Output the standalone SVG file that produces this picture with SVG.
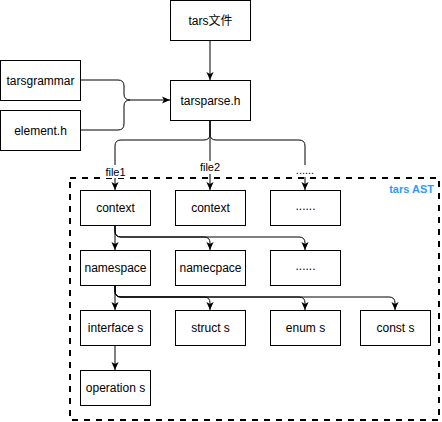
<svg xmlns="http://www.w3.org/2000/svg" width="442" height="422" viewBox="0 0 442 422">
<style>
.box{fill:#fff;stroke:#000;stroke-width:1}
.t{font-family:"Liberation Sans",Arial,"Noto Sans CJK SC",sans-serif;font-size:12px;fill:#000;text-anchor:middle;dominant-baseline:central}
.lbl{font-family:"Liberation Sans",Arial,sans-serif;font-size:11px;fill:#000;text-anchor:middle;dominant-baseline:central}
.c{fill:none;stroke:#000;stroke-width:1}
</style>
<defs>
<marker id="ah" viewBox="0 0 10 10" refX="10" refY="5" markerWidth="8" markerHeight="8" markerUnits="userSpaceOnUse" orient="auto">
<path d="M0,0.5 L10,5 L0,9.5 L2.5,5 Z" fill="#000"/>
</marker>
</defs>
<rect x="0" y="0" width="442" height="422" fill="#fff"/>
<g id="tars-ast">
<rect x="70" y="178" width="369" height="242" fill="none" stroke="#000" stroke-width="2" stroke-dasharray="6 6"/>
<text x="434" y="189" font-family="Liberation Sans,Arial,sans-serif" font-size="11" font-weight="bold" fill="#3399FF" text-anchor="end" dominant-baseline="central">tars AST</text>
</g>
<g id="connectors">
<path class="c" d="M210,40 V80" marker-end="url(#ah)"/>
<path class="c" d="M80,80 H118 Q124,80 124,86 V94 Q124,100 130,100 H170" marker-end="url(#ah)"/>
<path class="c" d="M80,130 H118 Q124,130 124,124 V106 Q124,100 130,100"/>
<path class="c" d="M210,120 V134 Q210,140 204,140 H121 Q115,140 115,146 V190" marker-end="url(#ah)"/>
<path class="c" d="M210,120 V190" marker-end="url(#ah)"/>
<path class="c" d="M210,120 V134 Q210,140 216,140 H299 Q305,140 305,146 V190" marker-end="url(#ah)"/>
<path class="c" d="M115,225 V250" marker-end="url(#ah)"/>
<path class="c" d="M115,225 V231 Q115,237 121,237 H204 Q210,237 210,243 V250" marker-end="url(#ah)"/>
<path class="c" d="M115,225 V231 Q115,237 121,237 H299 Q305,237 305,243 V250" marker-end="url(#ah)"/>
<path class="c" d="M115,285 V310" marker-end="url(#ah)"/>
<path class="c" d="M115,285 V291 Q115,297 121,297 H204 Q210,297 210,303 V310" marker-end="url(#ah)"/>
<path class="c" d="M115,285 V291 Q115,297 121,297 H299 Q305,297 305,303 V310" marker-end="url(#ah)"/>
<path class="c" d="M115,285 V291 Q115,297 121,297 H389 Q395,297 395,303 V310" marker-end="url(#ah)"/>
<path class="c" d="M115,345 V370" marker-end="url(#ah)"/>
<rect x="105" y="165" width="21" height="13" fill="#fff"/>
<text class="lbl" x="115.5" y="172">file1</text>
<rect x="199" y="161" width="22" height="13" fill="#fff"/>
<text class="lbl" x="210" y="167">file2</text>
<rect x="296" y="165" width="19" height="12" fill="#fff"/>
<text class="lbl" x="305" y="170">......</text>
</g>
<g id="n-tarsfile"><rect class="box" x="170.5" y="0.5" width="80" height="40"/><text class="t" x="210.5" y="20.5">tars文件</text></g>
<g id="n-tarsgrammar"><rect class="box" x="0.5" y="60.5" width="80" height="40"/><text class="t" x="40.5" y="80.5">tarsgrammar</text></g>
<g id="n-element"><rect class="box" x="0.5" y="110.5" width="80" height="40"/><text class="t" x="40.5" y="130.5">element.h</text></g>
<g id="n-tarsparse"><rect class="box" x="170.5" y="80.5" width="80" height="40"/><text class="t" x="210.5" y="100.5">tarsparse.h</text></g>
<g id="n-context1"><rect class="box" x="80.5" y="190.5" width="70" height="35"/><text class="t" x="115.5" y="208">context</text></g>
<g id="n-context2"><rect class="box" x="175.5" y="190.5" width="70" height="35"/><text class="t" x="210.5" y="208">context</text></g>
<g id="n-context3"><rect class="box" x="270.5" y="190.5" width="70" height="35"/><text class="t" x="305.5" y="206">......</text></g>
<g id="n-namespace1"><rect class="box" x="80.5" y="250.5" width="70" height="35"/><text class="t" x="115.5" y="268">namespace</text></g>
<g id="n-namespace2"><rect class="box" x="175.5" y="250.5" width="70" height="35"/><text class="t" x="210.5" y="268">namecpace</text></g>
<g id="n-namespace3"><rect class="box" x="270.5" y="250.5" width="70" height="35"/><text class="t" x="305.5" y="266">......</text></g>
<g id="n-interface"><rect class="box" x="80.5" y="310.5" width="70" height="35"/><text class="t" x="115.5" y="328">interface s</text></g>
<g id="n-struct"><rect class="box" x="175.5" y="310.5" width="70" height="35"/><text class="t" x="210.5" y="328">struct s</text></g>
<g id="n-enum"><rect class="box" x="270.5" y="310.5" width="70" height="35"/><text class="t" x="305.5" y="328">enum s</text></g>
<g id="n-const"><rect class="box" x="360.5" y="310.5" width="70" height="35"/><text class="t" x="395.5" y="328">const s</text></g>
<g id="n-operation"><rect class="box" x="80.5" y="370.5" width="70" height="35"/><text class="t" x="115.5" y="388">operation s</text></g>
</svg>
